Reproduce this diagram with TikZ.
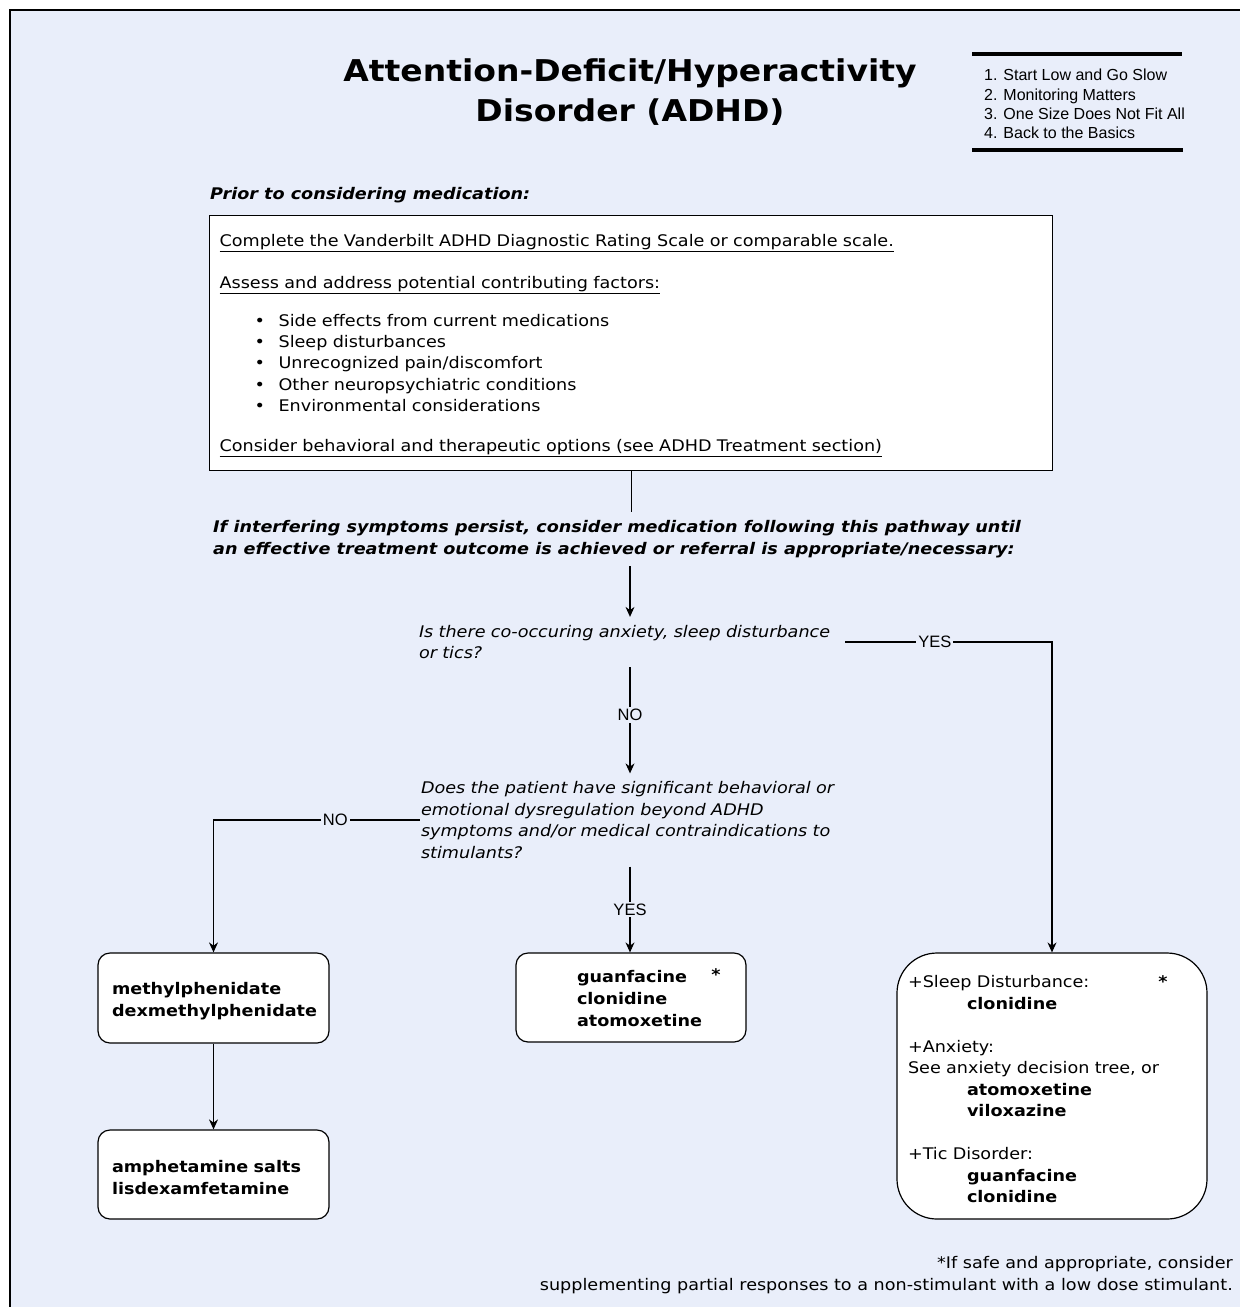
\documentclass[tikz,border=0pt]{standalone}
\usepackage{fontspec}
\setmainfont[FakeStretch=1.1]{DejaVu Sans}
\newfontfamily\arialfont{Liberation Sans}
\usepackage{tikz}
\usetikzlibrary{arrows.meta, positioning, calc}
\definecolor{pagebg}{RGB}{233,238,250}
\newcommand{\bulletitem}[1]{\hspace*{35pt}\makebox[24pt][l]{\textbullet}#1}
\tikzset{
    drug_box/.style={rectangle, draw, rounded corners=12pt, fill=white, line width=1.2pt, align=left, text width=203pt, inner xsep=14pt, minimum height=90pt, font=\bfseries\fontsize{16}{22}\selectfont},
    question/.style={align=left, font=\itshape\fontsize{16}{21.5}\selectfont, inner ysep=8pt},
    heading/.style={align=left, font=\bfseries\itshape\fontsize{16}{22}\selectfont},
    branch_label/.style={fill=pagebg, font=\arialfont\fontsize{16.5}{16.5}\selectfont, inner sep=2pt},
    arrow/.style={-{Stealth[length=10pt,width=9pt]}, line width=1.1pt},
    link/.style={line width=1.1pt}
}

\begin{document}
\begin{tikzpicture}[x=1pt, y=-1pt]
            \clip (0,0) rectangle (1240,1307);
            % Page frame
            \fill[white] (0,0) rectangle (1240,1307);
            \draw[fill=pagebg, line width=1.5pt] (10,10) rectangle (1270,1330);

            % Title and legend
            \node (title) at (630,92) [align=center, font=\bfseries\fontsize{30}{40}\selectfont] {Attention-Deficit/Hyperactivity\\Disorder (ADHD)};
            \draw[line width=4pt] (972,54) -- (1182,54);
            \draw[line width=4pt] (972,150) -- (1183,150);
            \node (legend) at (984,104) [anchor=west, align=left, inner sep=0pt, font=\arialfont\fontsize{16}{19.3}\selectfont] {1. Start Low and Go Slow\\2. Monitoring Matters\\3. One Size Does Not Fit All\\4. Back to the Basics};

            % Before medication
            \node (prior) at (210,195) [heading, anchor=west, inner sep=0pt] {Prior to considering medication:};
            \node (box1) at (209,215) [anchor=north west, rectangle, draw, fill=white, line width=1.2pt, align=left, text width=823pt, inner xsep=10pt, minimum height=255pt, font=\fontsize{16}{21.3}\selectfont] {%
                \rule{0pt}{17pt}\underline{Complete the Vanderbilt ADHD Diagnostic Rating Scale or comparable scale.}\\[20.5pt]
                \underline{Assess and address potential contributing factors:}\\[16.5pt]
                \bulletitem{Side effects from current medications}\\
                \bulletitem{Sleep disturbances}\\
                \bulletitem{Unrecognized pain/discomfort}\\
                \bulletitem{Other neuropsychiatric conditions}\\
                \bulletitem{Environmental considerations}\\[18.5pt]
                \underline{Consider behavioral and therapeutic options (see ADHD Treatment section)}};
            \node (persist) at (213,539) [heading, anchor=west, inner xsep=0pt, inner ysep=8pt] {If interfering symptoms persist, consider medication following this pathway until\\an effective treatment outcome is achieved or referral is appropriate/necessary:};

            % Questions
            \node (q1) at (630,642) [question, text width=422pt, inner xsep=4pt] {Is there co-occuring anxiety, sleep disturbance\\or tics?};
            \node (q2) at (630,820) [question, text width=418pt, inner xsep=1pt] {Does the patient have significant behavioral or\\emotional dysregulation beyond ADHD\\symptoms and/or medical contraindications to\\stimulants?};

            % Medication boxes
            \node (methyl) at (213.5,998) [drug_box] {\rule{0pt}{18pt}methylphenidate\\dexmethylphenidate};
            \node (amphet) at (213.5,1174.5) [drug_box, minimum height=89pt] {\rule{0pt}{18pt}amphetamine salts\\lisdexamfetamine};
            \node (nonstim) at (631,997.5) [drug_box, text width=202pt, minimum height=89pt] {\rule{0pt}{14pt}\hspace*{47pt}guanfacine\\\hspace*{47pt}clonidine\\\hspace*{47pt}atomoxetine};
            \node (starC) at (716,975) [font=\bfseries\fontsize{16}{22}\selectfont] {*};
            \node (comorbid) at (1052,1086) [drug_box, rounded corners=40pt, text width=288pt, inner xsep=11pt, minimum height=266pt, font=\fontsize{16}{21.5}\selectfont] {%
                \rule{0pt}{19pt}+Sleep Disturbance:\\
                \hspace*{59pt}\textbf{clonidine}\\[21.5pt]
                +Anxiety:\\
                See anxiety decision tree, or\\
                \hspace*{59pt}\textbf{atomoxetine}\\
                \hspace*{59pt}\textbf{viloxazine}\\[21.5pt]
                +Tic Disorder:\\
                \hspace*{59pt}\textbf{guanfacine}\\
                \hspace*{59pt}\textbf{clonidine}};
            \node (starD) at (1163,982) [font=\bfseries\fontsize{16}{22}\selectfont] {*};

            % Connectors
            \draw[link] (box1.south) -- (box1.south |- persist.north);
            \draw[arrow] (persist.south -| q1.north) -- (q1.north);
            \draw[arrow] (q1.south) -- (q2.north) node[branch_label, pos=0.45] {NO};
            \draw[arrow] (q1.east) -| (comorbid.north) node[branch_label, pos=0.217] {YES};
            \draw[arrow] (q2.west) -| (methyl.north) node[branch_label, pos=0.205] {NO};
            \draw[arrow] (q2.south) -- (q2.south |- nonstim.north) node[branch_label, midway] {YES};
            \draw[arrow] (methyl.south) -- (amphet.north);

            % Footnote
            \node (footnote) at (1233,1275) [anchor=east, align=right, inner sep=0pt, font=\fontsize{16}{22}\selectfont] {*If safe and appropriate, consider\\supplementing partial responses to a non-stimulant with a low dose stimulant.};
\end{tikzpicture}
\end{document}
